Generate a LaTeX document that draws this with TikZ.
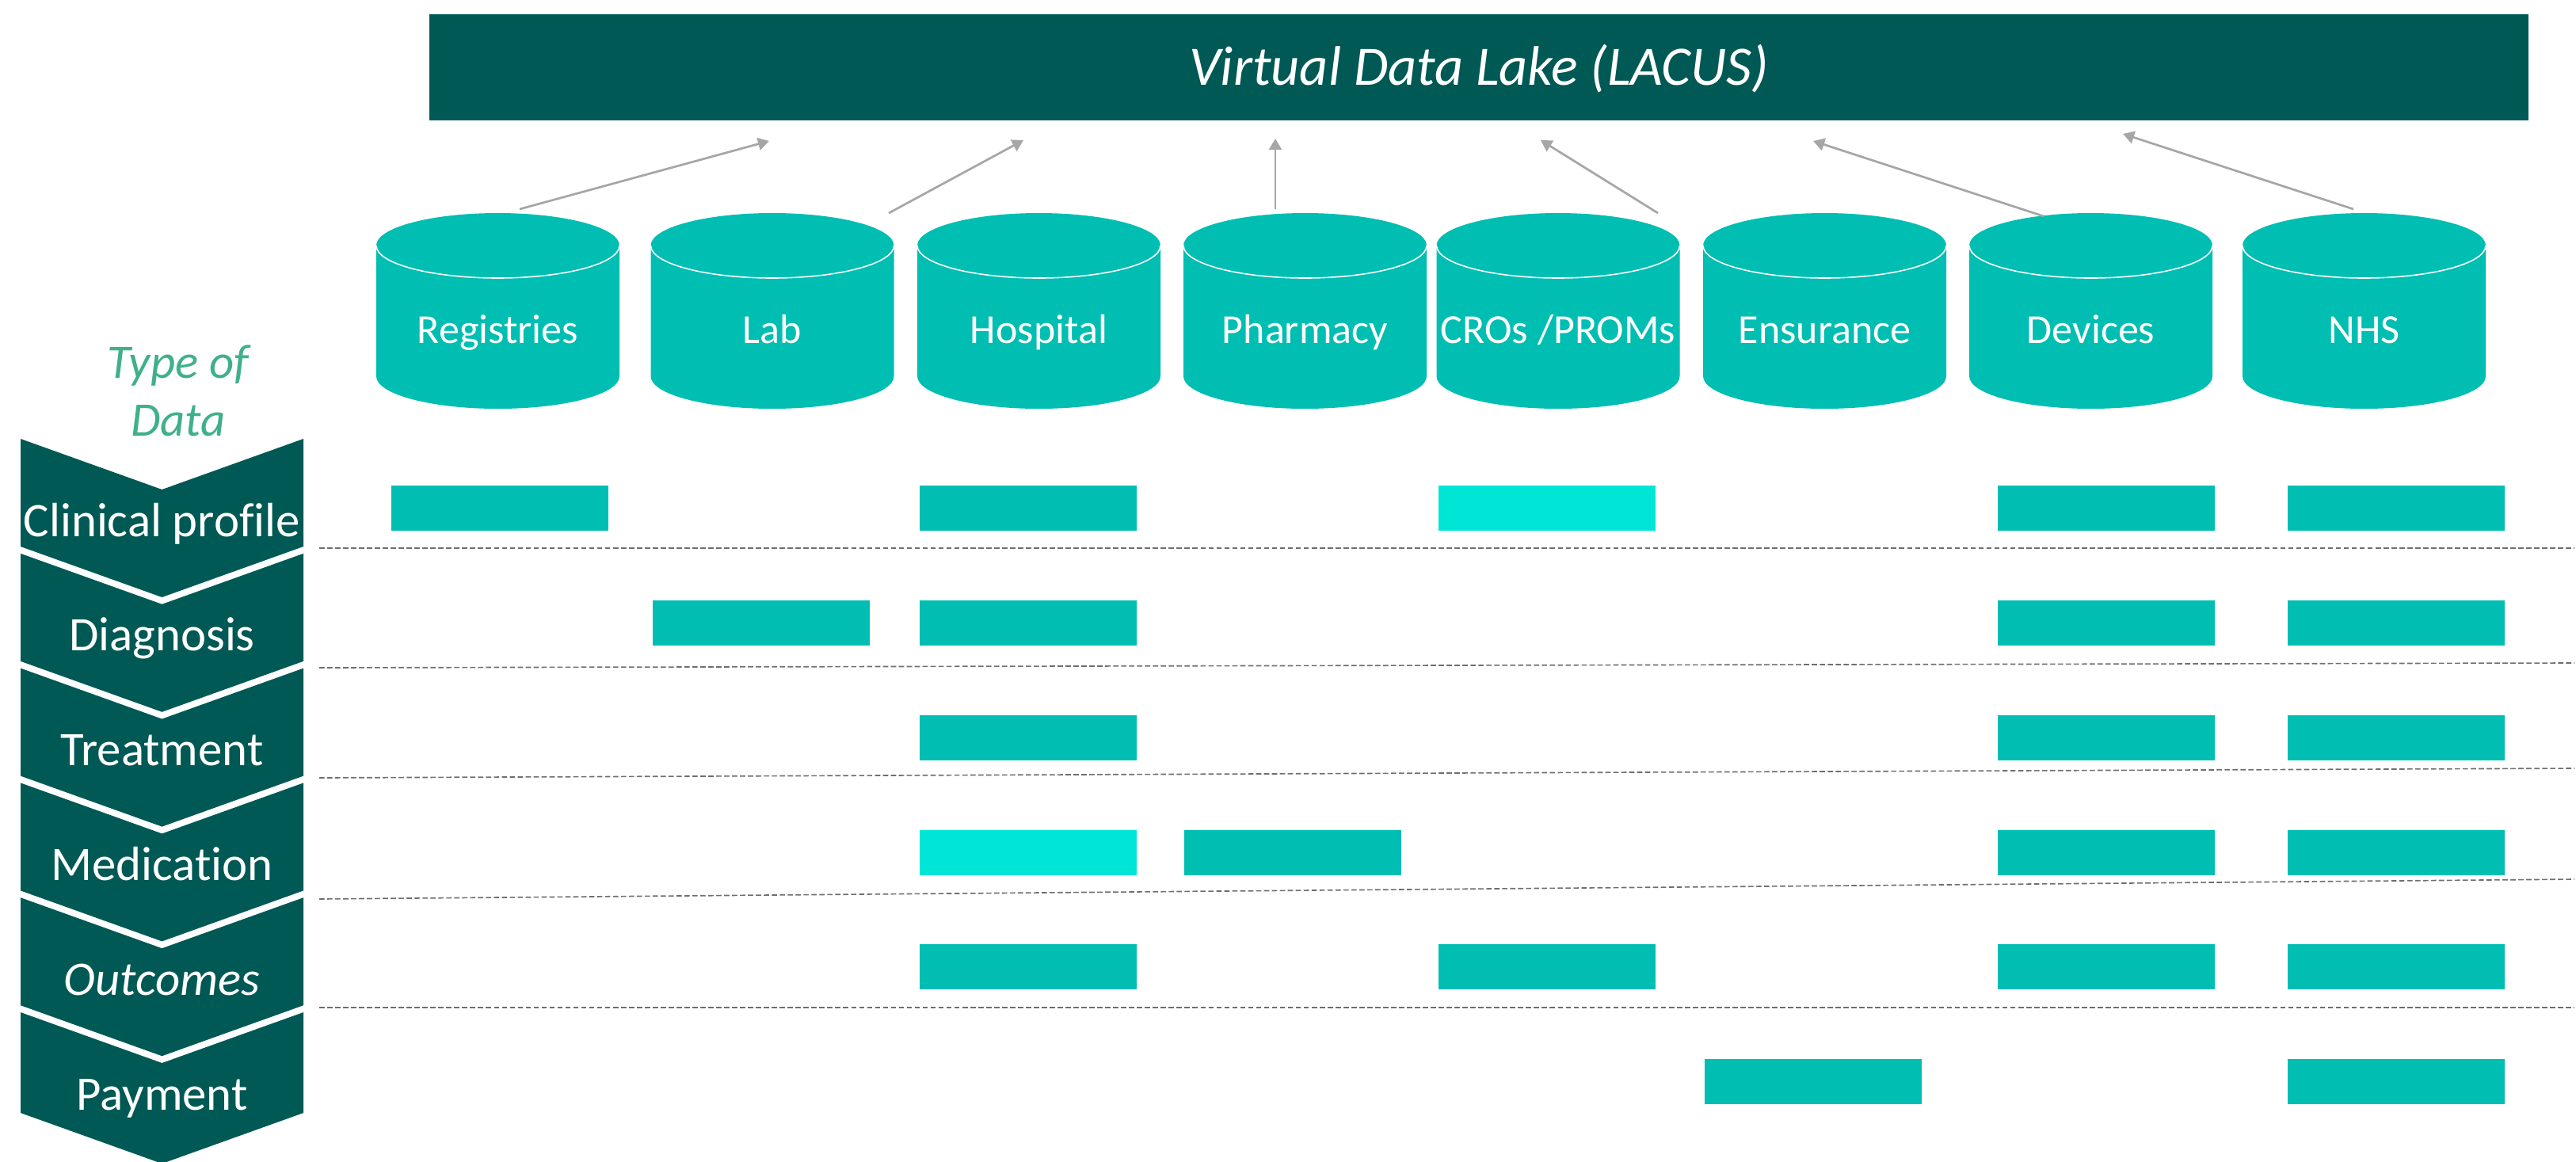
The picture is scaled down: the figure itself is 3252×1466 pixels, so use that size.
\documentclass[tikz,border=0pt]{standalone}
\usepackage{fontspec}
\setmainfont{Carlito}[Ligatures=NoCommon]
\usetikzlibrary{arrows.meta}
\definecolor{lakedark}{RGB}{0,89,84}
\definecolor{canteal}{RGB}{0,190,178}
\definecolor{canlight}{RGB}{0,230,214}
\definecolor{typegreen}{RGB}{64,176,140}
\definecolor{feedgray}{RGB}{166,166,166}
\definecolor{rulegray}{RGB}{110,110,110}
\tikzset{
  stage len/.store in=\stagelen, stage len=136,
  dbcan/.pic={
    \fill[canteal] (-153.5,41) -- (-153.5,206) arc[start angle=180,end angle=0,x radius=153.5,y radius=41]
      -- (153.5,41) arc[start angle=0,end angle=-180,x radius=153.5,y radius=41] -- cycle;
    \draw[white,line width=0.45pt] (-153.5,41) arc[start angle=180,end angle=0,x radius=153.5,y radius=41];
    \coordinate (-top) at (0,0);
    \node[canlabel] (-lbl) at (0,164) {#1};
  },
  stage/.pic={
    \fill[lakedark] (26,0) -- (204.5,64) -- (383,0) -- (383,\stagelen) -- (204.5,\stagelen+64) -- (26,\stagelen) -- cycle;
    \node[stagelabel] (-lbl) at (204.5,123) {#1};
  },
  canlabel/.style={anchor=base, text=white, inner sep=0pt, font=\fontsize{14.8}{17}\selectfont},
  stagelabel/.style={anchor=base, text=white, inner sep=0pt, font=\fontsize{17.3}{20}\selectfont},
  cell/.style={fill=canteal, minimum width=2.74cm, minimum height=0.57cm, inner sep=0pt},
  celllight/.style={cell, fill=canlight},
  sep/.style={rulegray, line width=0.47pt, dash pattern=on 1.9pt off 0.95pt},
  feed/.style={->, feedgray, line width=0.77pt}
}
\begin{document}
\begin{tikzpicture}[x=0.01cm, y=-0.01cm, >={Triangle[length=4pt,width=4.5pt]}, line join=round]
\useasboundingbox (0,0) rectangle (3252,1466);
\node[fill=lakedark, minimum width=26.48cm, minimum height=1.34cm, text=white, text height=14pt, text depth=1pt,
  font=\fontsize{20}{24}\selectfont\itshape] (lake) at (1867,85) {Virtual Data Lake (LACUS)};
\node[text=typegreen, align=center, font=\fontsize{17.3}{20.8}\selectfont\itshape] (datatype) at (225,493) {Type of\\Data};

\pic (clin) at (0,554) {stage=Clinical profile};
\pic (diag) at (0,698.8) {stage=Diagnosis};
\pic (treat) at (0,843.6) {stage=Treatment};
\pic (med) at (0,988.4) {stage=Medication};
\pic (outc) at (0,1133.2) {stage=\textit{Outcomes}};
\pic[stage len=127] (pay) at (0,1278) {stage=Payment};

\pic (reg) at (628.5,269) {dbcan=Registries};
\pic (lab) at (975,269) {dbcan=Lab};
\pic (hosp) at (1311.5,269) {dbcan=Hospital};
\pic (pharm) at (1647.5,269) {dbcan=Pharmacy};
\pic (cro) at (1967,269) {dbcan=CROs /PROMs};
\pic (ens) at (2303.5,269) {dbcan=Ensurance};
\pic (dev) at (2639.5,269) {dbcan=Devices};
\pic (nhs) at (2984.5,269) {dbcan=NHS};

\coordinate (t1) at (971,178);
\coordinate (t2) at (1292,177);
\coordinate (t3) at (1610,175);
\coordinate (t4) at (1945,177);
\coordinate (t5) at (2289,178);
\coordinate (t6) at (2680,169);
\draw[feed] ([shift={(27.5,-5)}]reg-top) -- (t1);
\draw[feed] ([shift={(147,0)}]lab-top) -- (t2);
\draw[feed] ([shift={(-37.5,-5)}]pharm-top) -- (t3);
\draw[feed] ([shift={(126,0)}]cro-top) -- (t4);
\draw[feed] ([shift={(-59.5,4)}]dev-top) -- (t5);
\draw[feed] ([shift={(-13.5,-5)}]nhs-top) -- (t6);

\draw[sep] (403,692) -- (3250,692);
\draw[sep] (403,843) -- (3250,837);
\draw[sep] (403,982) -- (3250,970);
\draw[sep] (403,1135) -- (3250,1110);
\draw[sep] (403,1272) -- (3250,1272);

\node[cell] (clin-reg) at (631,641.5) {};
\node[cell] (clin-hosp) at (1298,641.5) {};
\node[celllight] (clin-cro) at (1953,641.5) {};
\node[cell] (clin-dev) at (2659,641.5) {};
\node[cell] (clin-nhs) at (3025,641.5) {};
\node[cell] (diag-lab) at (961,786.5) {};
\node[cell] (diag-hosp) at (1298,786.5) {};
\node[cell] (diag-dev) at (2659,786.5) {};
\node[cell] (diag-nhs) at (3025,786.5) {};
\node[cell] (treat-hosp) at (1298,931.5) {};
\node[cell] (treat-dev) at (2659,931.5) {};
\node[cell] (treat-nhs) at (3025,931.5) {};
\node[celllight] (med-hosp) at (1298,1076.5) {};
\node[cell] (med-pharm) at (1632,1076.5) {};
\node[cell] (med-dev) at (2659,1076.5) {};
\node[cell] (med-nhs) at (3025,1076.5) {};
\node[cell] (outc-hosp) at (1298,1220.5) {};
\node[cell] (outc-cro) at (1953,1220.5) {};
\node[cell] (outc-dev) at (2659,1220.5) {};
\node[cell] (outc-nhs) at (3025,1220.5) {};
\node[cell] (pay-ens) at (2289,1365.5) {};
\node[cell] (pay-nhs) at (3025,1365.5) {};
\end{tikzpicture}
\end{document}
